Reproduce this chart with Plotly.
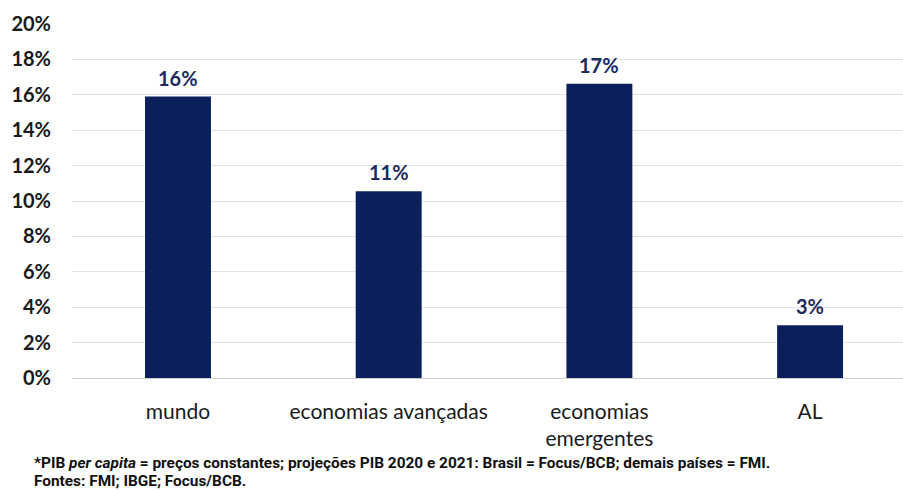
import plotly.graph_objects as go

categories = ["mundo", "economias avançadas", "economias<br>emergentes", "AL"]
values = [15.9, 10.55, 16.62, 2.98]
value_labels = ["16%", "11%", "17%", "3%"]
y_ticks = [0, 2, 4, 6, 8, 10, 12, 14, 16, 18, 20]
y_tick_labels = [f"{t}%" for t in y_ticks]
footnote_1 = "*PIB <i>per capita</i> = preços constantes; projeções PIB 2020 e 2021: Brasil = Focus/BCB; demais países = FMI."
footnote_2 = "Fontes: FMI; IBGE; Focus/BCB."

NAVY = "#0b1f5c"
W, H = 903, 491
ML, MR, MT, MB = 72, 0, 24, 113

fig = go.Figure()
fig.add_trace(go.Bar(
    x=categories, y=values,
    marker=dict(color=NAVY, line=dict(width=0)),
    width=0.313,
    hoverinfo="skip",
))

for c, v, lab in zip(categories, values, value_labels):
    fig.add_annotation(
        x=c, y=v, text=lab, showarrow=False,
        xanchor="center", yanchor="bottom", yshift=5,
        font=dict(family="Lato", size=20, color="#1c2a5e", weight="bold"),
    )

fig.update_layout(
    width=W, height=H,
    margin=dict(l=ML, r=MR, t=MT, b=MB),
    plot_bgcolor="white", paper_bgcolor="white",
    showlegend=False,
    xaxis=dict(
        range=[-0.503, 3.441], showgrid=False, showline=False,
        tickfont=dict(family="Lato", size=21, color="#1a1a1a"),
        ticks="", ticklabelstandoff=19,
    ),
    yaxis=dict(
        range=[0, 20], tickvals=y_ticks, ticktext=y_tick_labels,
        showgrid=True, gridcolor="#e2e2e2", gridwidth=1,
        zeroline=True, zerolinecolor="#d0d0d0", zerolinewidth=1,
        tickfont=dict(family="Lato", size=20, color="#1a1a1a", weight="bold"),
        ticks="", ticklabelstandoff=20,
    ),
)

plot_w = W - ML - MR
plot_h = H - MT - MB
def px_x(x):
    return (x - ML) / plot_w
def px_y(y):
    return (H - MB - y) / plot_h

for txt, yy in [(footnote_1, 463), (footnote_2, 481)]:
    fig.add_annotation(
        text=txt, xref="paper", yref="paper",
        x=px_x(32), y=px_y(yy), xanchor="left", yanchor="middle",
        showarrow=False, align="left",
        font=dict(family="Roboto", size=15.4, color="#111", weight="bold"),
    )

fig.write_html(
    "out.html",
    config={"displayModeBar": False},
    post_script="document.body.style.margin='0';document.body.style.overflow='hidden';",
)
